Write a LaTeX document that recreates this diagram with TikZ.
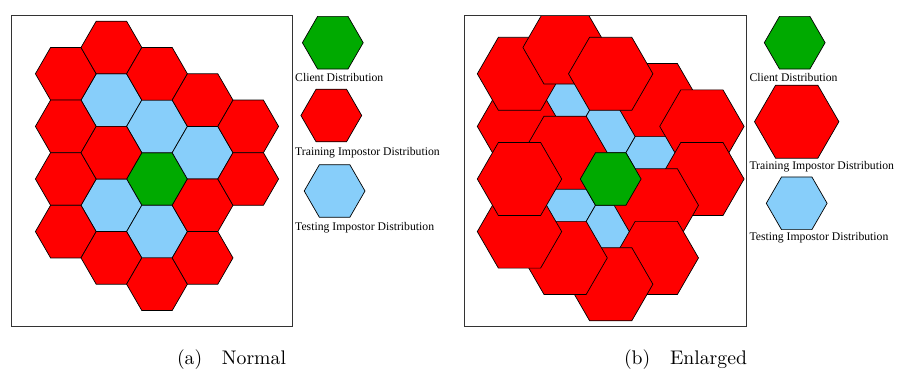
\documentclass[tikz,border=0pt]{standalone}
\usepackage{fontspec}
\usepackage{xcolor}
\usepackage{tikz}
\usetikzlibrary{shapes.geometric}

\newfontfamily\legendfont{Liberation Serif}
\newfontfamily\capfont{lmroman10-regular}[Extension=.otf]

\definecolor{clientgreen}{RGB}{0,170,0}
\definecolor{trainred}{RGB}{255,0,0}
\definecolor{testblue}{RGB}{135,206,250}

\begin{document}
\begin{tikzpicture}[
        x=1pt, y=-1pt,
        hex/.style={regular polygon, regular polygon sides=6, draw=black, line width=0.7pt, inner sep=0pt, minimum size=60.8pt},
        hexclient/.style={hex, fill=clientgreen},
        hextrain/.style={hex, fill=trainred},
        hextest/.style={hex, fill=testblue},
        bighex/.style={minimum size=84.4pt},
        legendtext/.style={font=\legendfont\fontsize{11.7}{14}\selectfont, inner sep=0pt, anchor=west},
        subcap/.style={font=\capfont\fontsize{19.7}{24}\selectfont, inner sep=0pt, anchor=base},
        framebox/.style={draw=black!80, line width=0.8pt}
      ]

      \useasboundingbox (0,0) rectangle (897,372);

      % (a) normal
      \begin{scope}[shift={(157,179)}, x=45.6pt, y=-26.3pt]
        \node[hexclient] (a-c) at (0,0) {};
        \node[hextest] (a-t1) at (-1,-3) {};
        \node[hextest] (a-t2) at (0,-2) {};
        \node[hextest] (a-t3) at (1,-1) {};
        \node[hextest] (a-t4) at (-1,1) {};
        \node[hextest] (a-t5) at (0,2) {};
        \node[hextrain] (a-r1) at (-2,-4) {};
        \node[hextrain] (a-r2) at (-2,-2) {};
        \node[hextrain] (a-r3) at (-2,0) {};
        \node[hextrain] (a-r4) at (-2,2) {};
        \node[hextrain] (a-r5) at (-1,-5) {};
        \node[hextrain] (a-r6) at (-1,-1) {};
        \node[hextrain] (a-r7) at (-1,3) {};
        \node[hextrain] (a-r8) at (0,-4) {};
        \node[hextrain] (a-r9) at (0,4) {};
        \node[hextrain] (a-r10) at (1,-3) {};
        \node[hextrain] (a-r11) at (1,1) {};
        \node[hextrain] (a-r12) at (1,3) {};
        \node[hextrain] (a-r13) at (2,-2) {};
        \node[hextrain] (a-r14) at (2,0) {};
      \end{scope}
      \draw[framebox] (11,15) rectangle (292.7,326);

      \node[hexclient] (a-lc) at (332.8,42.7) {};
      \node[legendtext] (a-lct) at (295,77) {Client Distribution};
      \node[hextrain] (a-lr) at (331.3,115.5) {};
      \node[legendtext] (a-lrt) at (295,152.7) {Training Impostor Distribution};
      \node[hextest] (a-lt) at (334.6,191) {};
      \node[legendtext] (a-ltt) at (295,227.7) {Testing Impostor Distribution};

      \node[subcap] (a-cap) at (231.5,364) {(a)\quad Normal};

      % (b) enlarged
      \begin{scope}
        \clip (464.3,15) rectangle (746,326);
        \begin{scope}[shift={(610.7,179)}, x=45.6pt, y=-26.3pt]
          \node[hextest] (b-t1) at (-1,-3) {};
          \node[hextest] (b-t2) at (0,-2) {};
          \node[hextest] (b-t3) at (1,-1) {};
          \node[hextest] (b-t4) at (-1,1) {};
          \node[hextest] (b-t5) at (0,2) {};
          \node[hextrain, bighex] (b-r10) at (1,-3) {};
          \node[hextrain, bighex] (b-r13) at (2,-2) {};
          \node[hextrain, bighex] (b-r14) at (2,0) {};
          \node[hextrain, bighex] (b-r11) at (1,1) {};
          \node[hextrain, bighex] (b-r12) at (1,3) {};
          \node[hextrain, bighex] (b-r9) at (0,4) {};
          \node[hextrain, bighex] (b-r7) at (-1,3) {};
          \node[hextrain, bighex] (b-r4) at (-2,2) {};
          \node[hextrain, bighex] (b-r2) at (-2,-2) {};
          \node[hextrain, bighex] (b-r6) at (-1,-1) {};
          \node[hextrain, bighex] (b-r3) at (-2,0) {};
          \node[hextrain, bighex] (b-r1) at (-2,-4) {};
          \node[hextrain, bighex] (b-r5) at (-1,-5) {};
          \node[hextrain, bighex] (b-r8) at (0,-4) {};
          \node[hexclient] (b-c) at (0,0) {};
        \end{scope}
      \end{scope}
      \draw[framebox] (464.3,15) rectangle (746,326);

      \node[hexclient] (b-lc) at (794.7,42.7) {};
      \node[legendtext] (b-lct) at (749.3,77.3) {Client Distribution};
      \node[hextrain, bighex] (b-lr) at (796.7,121.7) {};
      \node[legendtext] (b-lrt) at (749.3,166.7) {Training Impostor Distribution};
      \node[hextest] (b-lt) at (796.7,203.3) {};
      \node[legendtext] (b-ltt) at (749.3,237.7) {Testing Impostor Distribution};

      \node[subcap] (b-cap) at (685.5,364) {(b)\quad Enlarged};

    \end{tikzpicture}
\end{document}
